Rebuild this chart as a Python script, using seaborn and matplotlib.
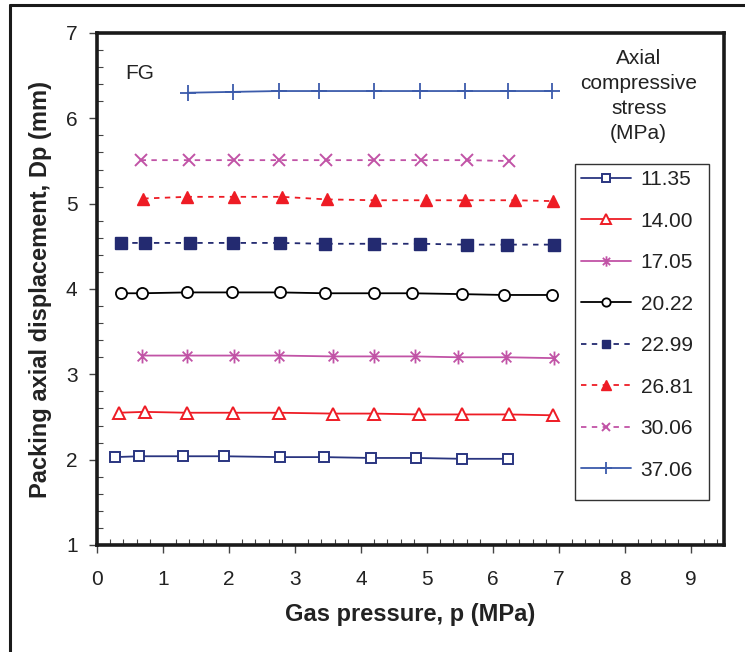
import matplotlib
matplotlib.use("Agg")
import matplotlib.pyplot as plt
from matplotlib.lines import Line2D
from matplotlib.patches import Rectangle
from matplotlib.path import Path
from matplotlib.ticker import MultipleLocator
import seaborn as sns
import pandas as pd

sns.set_theme(style="white")
plt.rcParams['font.family'] = ['Liberation Sans', 'DejaVu Sans']

# ---- data ----
stress_labels = ["11.35", "14.00", "17.05", "20.22", "22.99", "26.81", "30.06", "37.06"]

x_1135 = [0.27, 0.64, 1.30, 1.92, 2.77, 3.44, 4.15, 4.84, 5.53, 6.22]
y_1135 = [2.03, 2.04, 2.04, 2.04, 2.03, 2.03, 2.02, 2.02, 2.01, 2.01]

x_1400 = [0.33, 0.72, 1.36, 2.06, 2.76, 3.57, 4.19, 4.88, 5.53, 6.24, 6.91]
y_1400 = [2.55, 2.56, 2.55, 2.55, 2.55, 2.54, 2.54, 2.53, 2.53, 2.53, 2.52]

x_1705 = [0.68, 1.36, 2.07, 2.76, 3.57, 4.19, 4.82, 5.47, 6.20, 6.92]
y_1705 = [3.22, 3.22, 3.22, 3.22, 3.21, 3.21, 3.21, 3.20, 3.20, 3.19]

x_2022 = [0.37, 0.68, 1.36, 2.05, 2.78, 3.46, 4.19, 4.77, 5.53, 6.16, 6.90]
y_2022 = [3.95, 3.95, 3.96, 3.96, 3.96, 3.95, 3.95, 3.95, 3.94, 3.93, 3.93]

x_2299 = [0.37, 0.73, 1.41, 2.06, 2.77, 3.46, 4.20, 4.90, 5.60, 6.21, 6.92]
y_2299 = [4.54, 4.54, 4.54, 4.54, 4.54, 4.53, 4.53, 4.53, 4.52, 4.52, 4.52]

x_2681 = [0.70, 1.36, 2.08, 2.80, 3.48, 4.21, 4.98, 5.57, 6.33, 6.91]
y_2681 = [5.06, 5.08, 5.08, 5.08, 5.05, 5.04, 5.04, 5.04, 5.04, 5.03]

x_3006 = [0.66, 1.40, 2.07, 2.75, 3.47, 4.19, 4.91, 5.60, 6.24]
y_3006 = [5.51, 5.51, 5.51, 5.51, 5.51, 5.51, 5.51, 5.51, 5.50]

x_3706 = [1.38, 2.06, 2.75, 3.36, 4.19, 4.89, 5.58, 6.23, 6.89]
y_3706 = [6.30, 6.31, 6.32, 6.32, 6.32, 6.32, 6.32, 6.32, 6.32]

xs = [x_1135, x_1400, x_1705, x_2022, x_2299, x_2681, x_3006, x_3706]
ys = [y_1135, y_1400, y_1705, y_2022, y_2299, y_2681, y_3006, y_3706]

x_ticks = [0, 1, 2, 3, 4, 5, 6, 7, 8, 9]
y_ticks = [1, 2, 3, 4, 5, 6, 7]

# Excel-style star marker: an x plus a vertical bar
star = Path([(-0.7, -0.7), (0.7, 0.7), (-0.7, 0.7), (0.7, -0.7), (0, -1), (0, 1)],
            [Path.MOVETO, Path.LINETO, Path.MOVETO, Path.LINETO, Path.MOVETO, Path.LINETO])

# ---- styles ----
navy = "#2a3580"
red = "#ee1c25"
magenta = "#c153a6"
blue = "#3b5bab"
dash = (0, (3, 3))
styles = [
    dict(color=navy, ls="-", marker="s", mfc="white", ms=7, mew=1.4),
    dict(color=red, ls="-", marker="^", mfc="white", ms=9, mew=1.4),
    dict(color=magenta, ls="-", marker=star, mfc=magenta, ms=10, mew=1.3),
    dict(color="black", ls="-", marker="o", mfc="white", ms=8, mew=1.3),
    dict(color="#232a70", ls=dash, marker="s", mfc="#232a70", ms=8, mew=1.0),
    dict(color=red, ls=dash, marker="^", mfc=red, ms=9, mew=1.0),
    dict(color=magenta, ls=dash, marker="x", mfc=magenta, ms=8, mew=1.4),
    dict(color=blue, ls="-", marker="+", mfc=blue, ms=11, mew=1.3),
]

fig = plt.figure(figsize=(7.45, 6.52), dpi=100)
ax = fig.add_axes([97/745, 1-545/652, (724-97)/745, (545-33)/652])

handles = []
for lab, x, y, st in zip(stress_labels, xs, ys, styles):
    df = pd.DataFrame({"x": x, "y": y})
    sns.lineplot(data=df, x="x", y="y", ax=ax, sort=False, estimator=None,
                 color=st["color"], linestyle=st["ls"], linewidth=1.3,
                 marker=st["marker"], markersize=st["ms"],
                 markerfacecolor=st["mfc"], markeredgecolor=st["color"],
                 markeredgewidth=st["mew"], legend=False)
    handles.append(Line2D([], [], color=st["color"], linestyle=st["ls"], linewidth=1.3,
                          marker=st["marker"], markersize=st["ms"] * 0.75,
                          markerfacecolor=st["mfc"], markeredgecolor=st["color"],
                          markeredgewidth=st["mew"]))

ax.set_xlim(0, 9.5)
ax.set_ylim(1, 7)
ax.set_xticks(x_ticks)
ax.set_yticks(y_ticks)
ax.xaxis.set_minor_locator(MultipleLocator(0.2))
ax.yaxis.set_minor_locator(MultipleLocator(0.2))
ax.tick_params(which="major", direction="out", length=6, width=1.0, color="#444444",
               labelsize=15, labelcolor="#222222", bottom=True, left=True)
ax.tick_params(axis="x", which="major", pad=12)
ax.tick_params(axis="y", which="major", pad=8)
ax.tick_params(which="minor", direction="in", length=4, width=0.8, color="#444444",
               bottom=True, left=True)
for sp in ax.spines.values():
    sp.set_linewidth(2.6)
    sp.set_color("#1a1a1a")

ax.set_xlabel("Gas pressure, p (MPa)", fontsize=17, fontweight="bold", color="#222222", labelpad=10)
ax.set_ylabel("Packing axial displacement, Dp (mm)", fontsize=17, fontweight="bold", color="#222222", labelpad=10)

ax.text(0.43, 6.52, "FG", fontsize=15, color="#222222", ha="left", va="center")

ax.text(0.864, (545-96)/512, "Axial\ncompressive\nstress\n(MPa)", transform=ax.transAxes,
        ha="center", va="center", fontsize=15, color="#222222", linespacing=1.4)

# legend box drawn separately so its size can match the reference
lx0, lx1 = (575-97)/627, (709-97)/627
ly0, ly1 = (545-500)/512, (545-164)/512
ax.add_patch(Rectangle((lx0, ly0), lx1-lx0, ly1-ly0, transform=ax.transAxes,
                       facecolor="white", edgecolor="#333333", linewidth=1.0, zorder=4))
leg = ax.legend(handles, stress_labels, loc="upper left",
                bbox_to_anchor=(lx0, ly1, lx1-lx0, 0.0),
                mode="expand", fontsize=15, frameon=False,
                handlelength=2.4, handletextpad=0.45,
                labelspacing=1.08, borderpad=0.3, borderaxespad=0)
leg.set_zorder(5)
for t in leg.get_texts():
    t.set_color("#222222")

# outer frame (top and left edges)
fig.add_artist(Line2D([10/745, 1.0], [1-5/652, 1-5/652], transform=fig.transFigure,
                      color="#1a1a1a", linewidth=2.2))
fig.add_artist(Line2D([10/745, 10/745], [0, 1-5/652], transform=fig.transFigure,
                      color="#1a1a1a", linewidth=2.2))

fig.savefig("out.png", dpi=100)
